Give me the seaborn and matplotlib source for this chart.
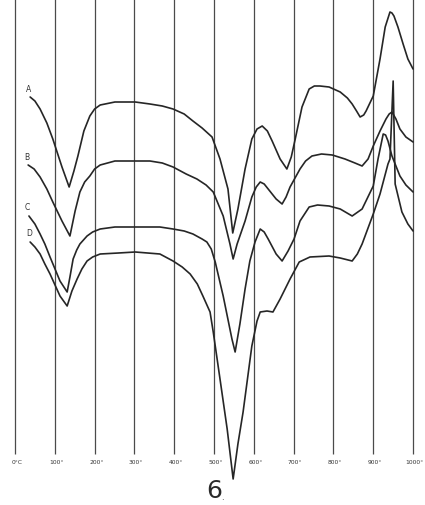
import matplotlib
import numpy as np
import pandas as pd

matplotlib.use("Agg")
import matplotlib.pyplot as plt
import seaborn as sns

# temperature ticks of the thermogram
temps = [0, 100, 200, 300, 400, 500, 600, 700, 800, 900, 1000]
temp_labels = ["0°C", "100°", "200°", "300°", "400°", "500°", "600°", "700°", "800°", "900°", "1000°"]

# curve offsets are read downward from the top of the sheet
a_t = [38, 50, 63, 80, 95, 118, 136, 148, 158, 173, 188, 200, 214, 251, 302, 339, 370, 397, 425, 447,
       470, 495, 515, 535, 547, 560, 578, 595, 608, 621, 634, 646, 666, 683, 694, 704, 721, 739, 752,
       766, 789, 817, 835, 847, 858, 867, 876, 882, 900, 917, 930, 942, 947, 952, 962, 975, 987, 1000]
a_y = [98, 102, 110, 124, 140, 168, 188, 172, 157, 132, 117, 110, 106, 103, 103, 105, 107, 110, 115, 122,
       129, 138, 160, 190, 234, 210, 170, 140, 130, 127, 132, 142, 160, 170, 158, 140, 108, 90, 87,
       87, 88, 93, 99, 105, 112, 118, 116, 112, 97, 60, 28, 13, 14, 17, 28, 45, 60, 70]

b_t = [33, 48, 63, 80, 95, 118, 138, 151, 163, 175, 188, 200, 214, 251, 302, 339, 370, 397, 430, 457,
       480, 498, 523, 540, 548, 558, 578, 595, 606, 616, 626, 636, 656, 671, 681, 691, 716, 730, 746,
       770, 797, 829, 854, 872, 887, 900, 917, 932, 940, 947, 957, 967, 982, 1000]
b_y = [166, 170, 178, 190, 203, 222, 237, 212, 193, 183, 177, 170, 166, 162, 162, 162, 164, 168, 175, 180,
       186, 193, 217, 245, 260, 245, 222, 198, 188, 183, 185, 190, 200, 205, 198, 188, 170, 162, 157,
       155, 156, 160, 164, 167, 160, 147, 132, 120, 115, 113, 120, 130, 138, 143]

c_t = [35, 50, 63, 75, 88, 113, 131, 138, 146, 155, 163, 181, 195, 214, 251, 302, 364, 397, 425, 447,
       470, 482, 493, 503, 523, 545, 553, 565, 578, 590, 603, 616, 626, 636, 656, 671, 686, 701, 716,
       739, 760, 789, 817, 847, 872, 900, 912, 925, 931, 937, 947, 967, 982, 1000]
c_y = [217, 225, 235, 245, 258, 282, 293, 278, 260, 251, 245, 237, 233, 230, 228, 228, 228, 230, 232, 235,
       240, 243, 250, 263, 297, 340, 353, 325, 290, 262, 243, 230, 233, 240, 255, 262, 252, 240, 222,
       208, 206, 207, 210, 217, 210, 187, 160, 135, 136, 142, 157, 177, 186, 193]

d_t = [38, 50, 63, 75, 88, 113, 131, 143, 156, 168, 181, 195, 214, 260, 302, 364, 397, 420, 440, 458,
       472, 490, 498, 515, 533, 548, 560, 573, 595, 608, 616, 633, 648, 666, 691, 714, 741, 789, 817,
       847, 860, 872, 900, 917, 937, 942, 950, 955, 972, 987, 1000]
d_y = [243, 248, 255, 265, 275, 297, 307, 292, 280, 270, 262, 258, 255, 254, 253, 255, 262, 268, 275, 285,
       297, 313, 333, 380, 430, 480, 445, 413, 347, 322, 313, 312, 313, 300, 280, 263, 258, 257, 259,
       262, 255, 245, 215, 195, 165, 160, 82, 185, 213, 225, 232]

curve_names = ["A", "B", "C", "D"]

frames = []
for name, t, y in zip(curve_names, [a_t, b_t, c_t, d_t], [a_y, b_y, c_y, d_y]):
    frames.append(pd.DataFrame({"temp": t, "offset": y, "curve": name}))
curves = pd.concat(frames, ignore_index=True)

sns.set_theme(style="white")
plt.rcParams["font.family"] = ["DejaVu Sans"]

fig = plt.figure(figsize=(4.25, 5.06), dpi=100)
ax = fig.add_axes([0, 0, 1, 1])
ax.set_xlim(-37.7, 1030)
ax.set_ylim(506, 0)
ax.axis("off")

ax.vlines(temps, 0, 455, color="#4a4a4a", linewidth=0.9)
for t, lab in zip(temps, temp_labels):
    ax.text(t + 4, 463, lab, fontsize=4.3, ha="center", va="center", color="#333333")

sns.lineplot(data=curves, x="temp", y="offset", hue="curve", units="curve", estimator=None,
             sort=False, palette=["#262626"] * 4, linewidth=1.2, legend=False, ax=ax)
for line in ax.get_lines():
    line.set_solid_joinstyle("round")

for name, t, y in zip(curve_names, [a_t, b_t, c_t, d_t], [a_y, b_y, c_y, d_y]):
    ax.text(t[0] - 10, y[0] - 9, name, fontsize=5.5, ha="left", va="center", color="#333333")

ax.text(500, 491, "6", fontsize=18, ha="center", va="center", color="#2a2a2a")
ax.text(522, 498, ".", fontsize=6, ha="center", va="center", color="#2a2a2a")

fig.savefig("out.png", dpi=100, facecolor="white")
